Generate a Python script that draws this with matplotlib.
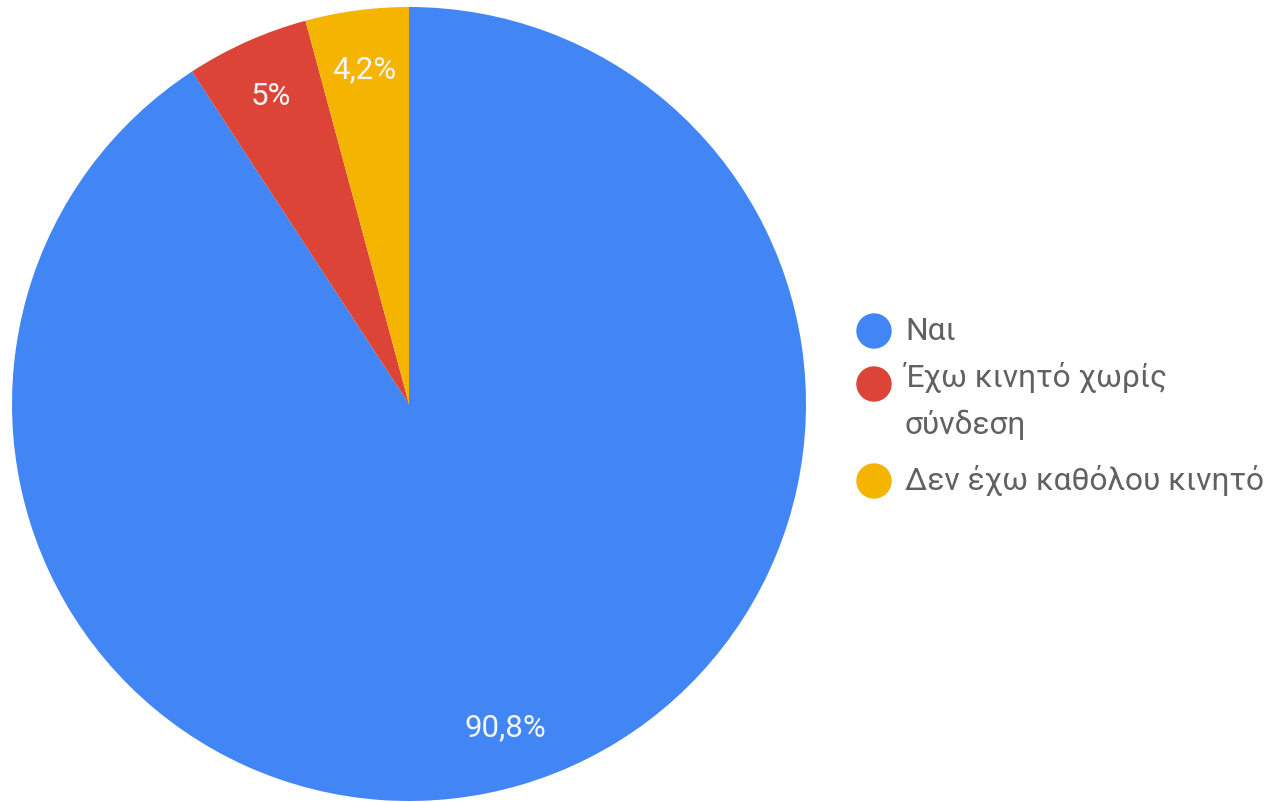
import matplotlib
matplotlib.use("Agg")
import matplotlib.pyplot as plt
from matplotlib.patches import Circle

categories = ["Ναι", "Έχω κινητό χωρίς\nσύνδεση", "Δεν έχω καθόλου κινητό"]
values = [90.8, 5.0, 4.2]
colors = ["#4285F4", "#DB4437", "#F4B400"]

plt.rcParams['font.family'] = ['Roboto', 'DejaVu Sans']

W, H = 1283, 802
fig = plt.figure(figsize=(W / 100, H / 100), dpi=100)
fig.patch.set_facecolor("white")

cx, cy, r = 409, 404, 397
ax = fig.add_axes([(cx - r) / W, (H - cy - r) / H, 2 * r / W, 2 * r / H])


def fmt(p):
    s = f"{p:.1f}"
    if s.endswith(".0"):
        s = s[:-2]
    return s.replace(".", ",") + "%"


wedges, texts, autotexts = ax.pie(
    values, colors=colors, startangle=90, counterclock=False, radius=1,
    autopct=fmt, pctdistance=0.85, wedgeprops=dict(linewidth=0),
    textprops=dict(color="#F5F5F5", fontsize=22.5),
)
ax.set_xlim(-1, 1)
ax.set_ylim(-1, 1)
ax.set_aspect("equal")
ax.axis("off")

# Legend
text_color = "#616161"
rows = [331, 384, 481]
fs = 22.8
for cat, col, yc in zip(categories, colors, rows):
    fig.add_artist(Circle((874 / 100, (H - yc) / 100), 0.17, color=col,
                          transform=fig.dpi_scale_trans))
    if "\n" in cat:
        fig.text(905 / W, (H - yc + 22) / H, cat, fontsize=fs, color=text_color,
                 va="top", ha="left", linespacing=1.68)
    else:
        fig.text(905 / W, (H - yc) / H, cat, fontsize=fs, color=text_color,
                 va="center", ha="left")

fig.savefig("out.png", dpi=100, facecolor="white")
